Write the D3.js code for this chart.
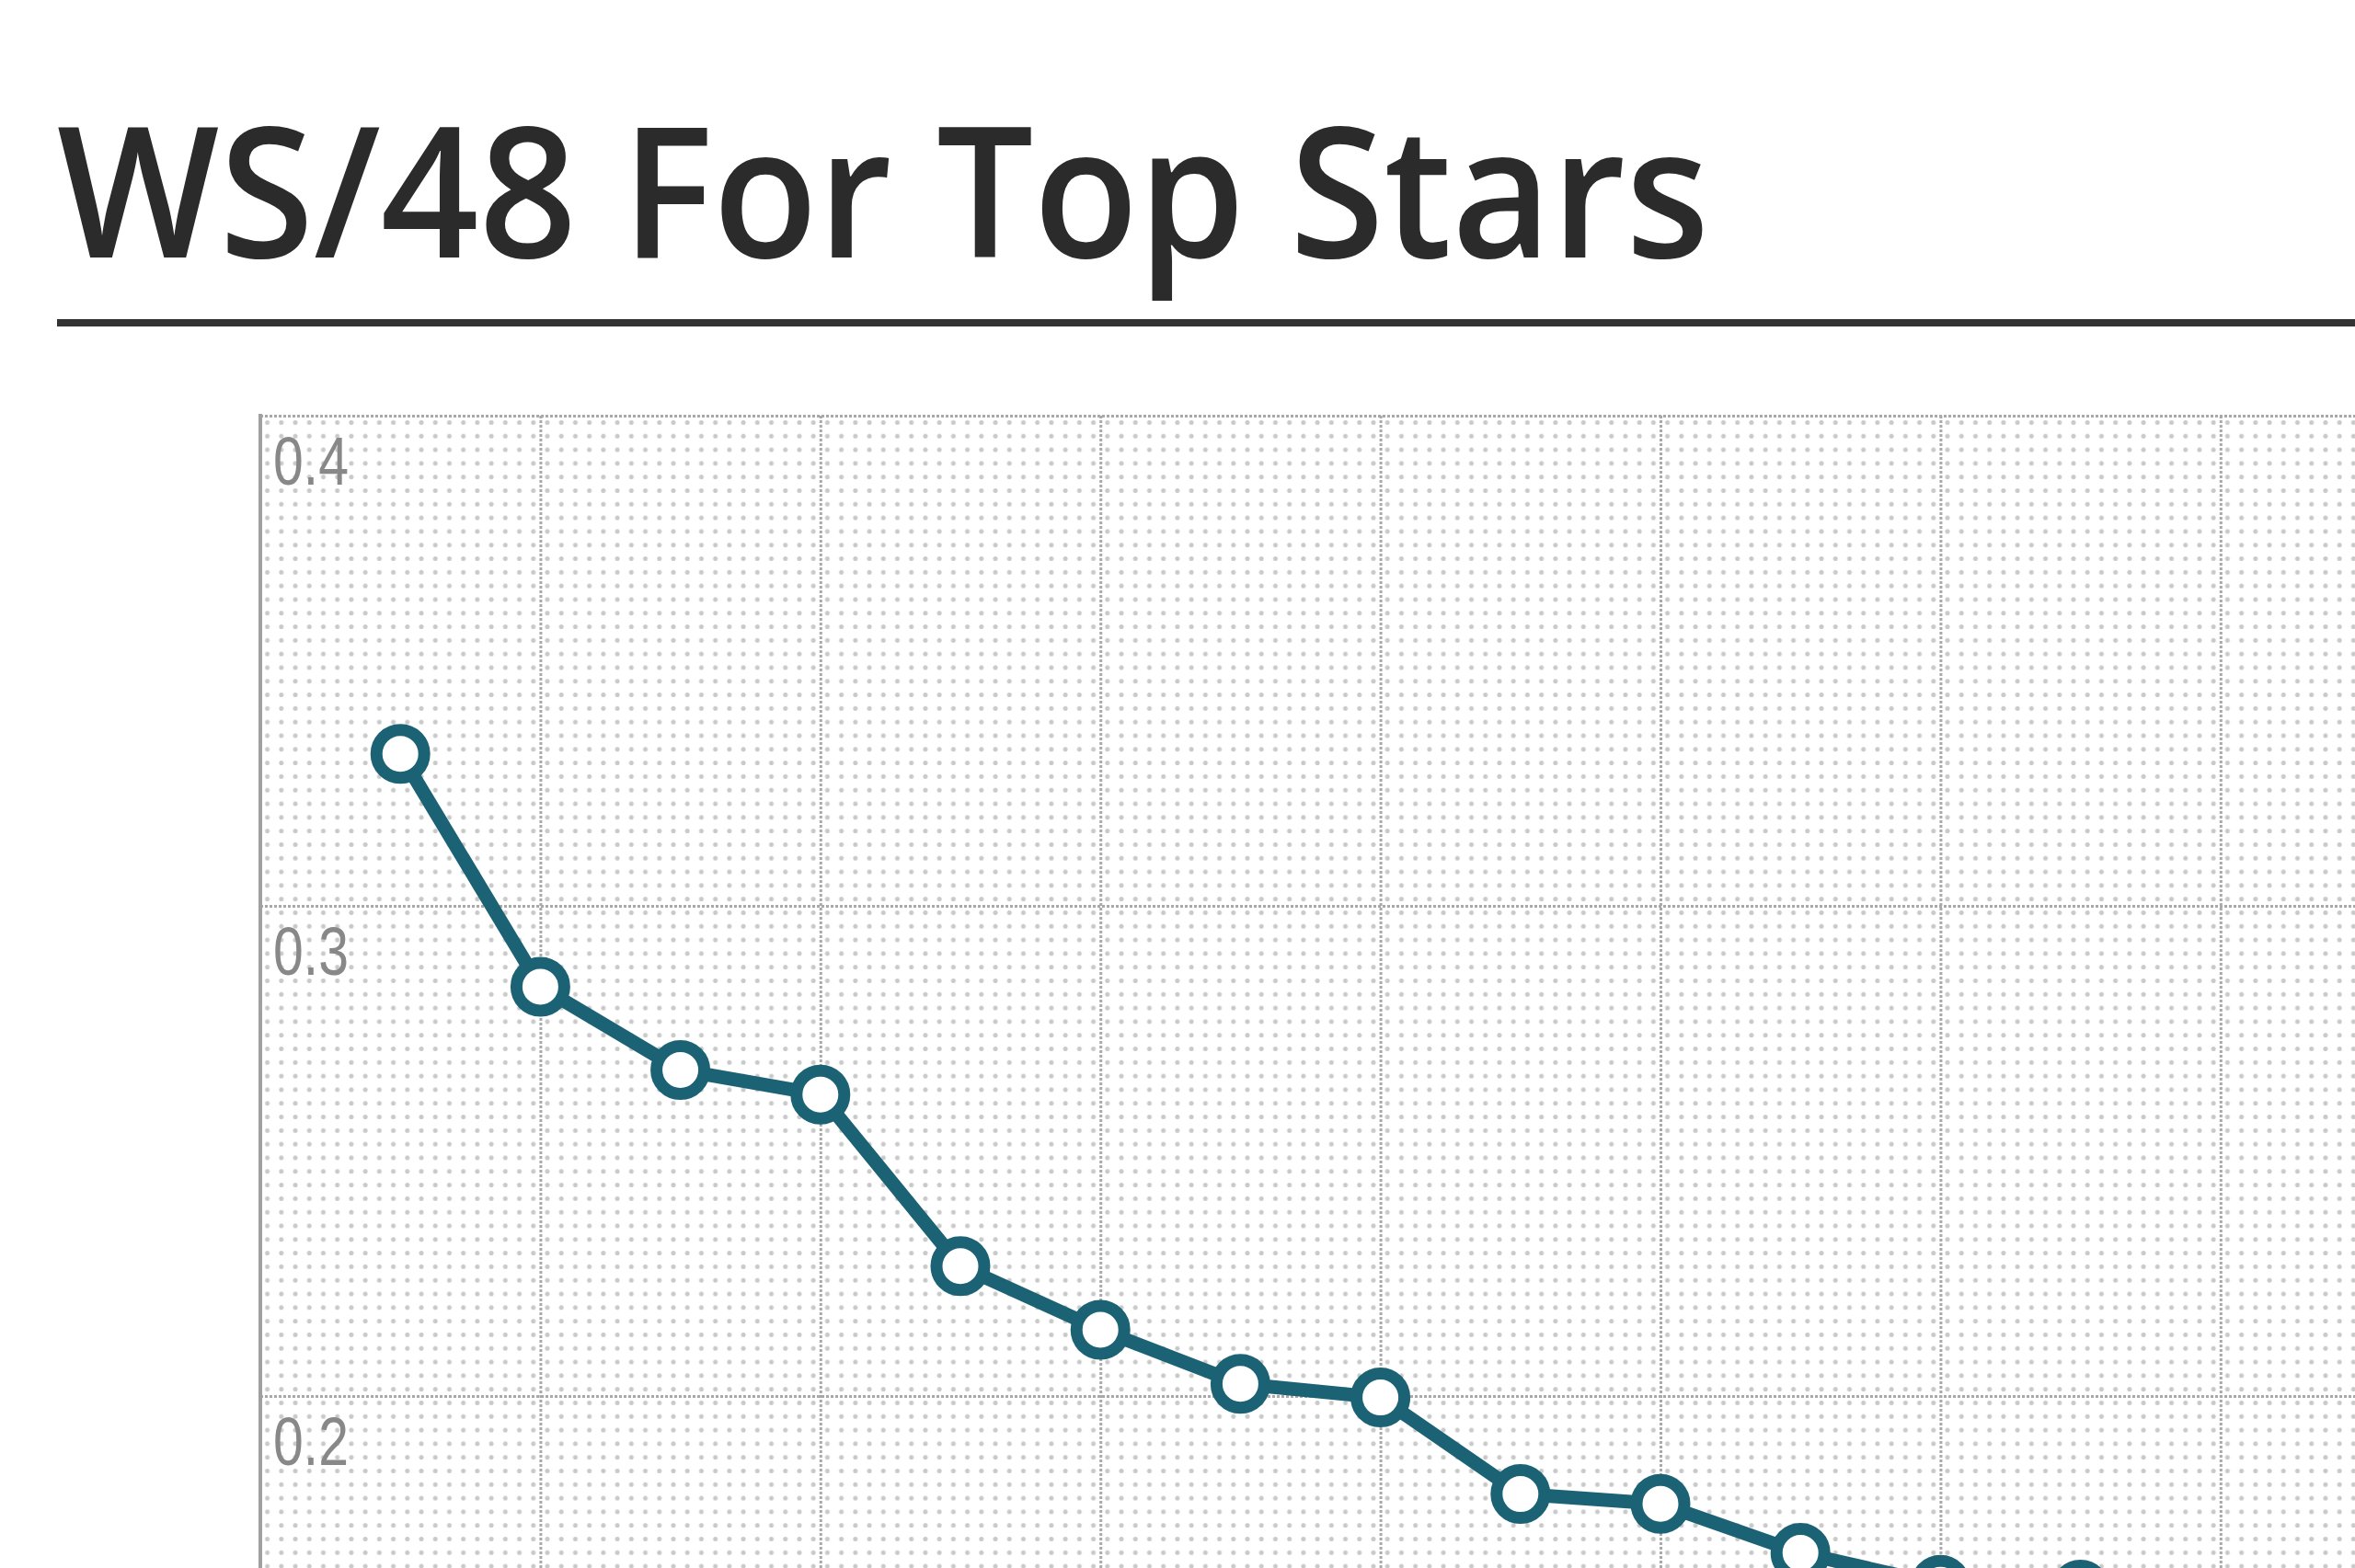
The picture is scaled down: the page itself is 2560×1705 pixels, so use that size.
<!DOCTYPE html>
<html>
<head>
<meta charset="utf-8">
<script src="https://cdn.jsdelivr.net/npm/d3@7"></script>
<style>
  html, body { margin: 0; padding: 0; background: #fff; }
  svg { display: block; }
</style>
</head>
<body>
<svg id="chart" width="2560" height="1705"></svg>
<script>
// ---- data ----
const title = "WS/48 For Top Stars";
const ranks = [1, 2, 3, 4, 5, 6, 7, 8, 9, 10, 11, 12, 13];
const ws48 = [0.331, 0.2835, 0.2665, 0.2615, 0.2265, 0.2135, 0.2025, 0.1997, 0.1800, 0.1780, 0.1680, 0.1615, 0.1605];
const yTicks = [0.2, 0.3, 0.4];
const xGridTicks = [2, 4, 6, 8, 10, 12, 14, 16];

// ---- layout ----
const W = 2560, H = 1705;
const plotLeft = 283, plotTop = 452;
const rankStep = 152.2;
const teal = "#1b6374";

const svg = d3.select("#chart");

const x = d3.scaleLinear().domain([0, 14]).range([plotLeft, plotLeft + 14 * rankStep]);
const y = d3.scaleLinear().domain([0.2, 0.4]).range([1518, plotTop]);

// dot pattern background
const defs = svg.append("defs");
const pw = rankStep / 10, ph = (y(0.3) - y(0.4)) / 36;
const pat = defs.append("pattern")
  .attr("id", "dots").attr("patternUnits", "userSpaceOnUse")
  .attr("x", plotLeft).attr("y", plotTop)
  .attr("width", pw).attr("height", ph);
pat.append("circle").attr("cx", pw / 2).attr("cy", ph / 2).attr("r", 2.5).attr("fill", "#c9c9c9");

svg.append("rect")
  .attr("x", plotLeft).attr("y", plotTop)
  .attr("width", W - plotLeft).attr("height", H - plotTop)
  .attr("fill", "url(#dots)");

// vertical grid lines via axis
const xg = svg.append("g")
  .attr("transform", `translate(0,${plotTop})`)
  .call(d3.axisBottom(x).tickValues(xGridTicks).tickSize(H - plotTop).tickFormat(""));
xg.select(".domain").remove();
xg.selectAll(".tick line")
  .attr("stroke", "#a9a9a9").attr("stroke-width", 3).attr("stroke-dasharray", "3,2");

// horizontal grid lines + labels via axis
const yg = svg.append("g")
  .attr("transform", `translate(${plotLeft},0)`)
  .call(d3.axisRight(y).tickValues(yTicks).tickSize(W - plotLeft).tickFormat(d3.format(".1f")));
yg.select(".domain").remove();
yg.selectAll(".tick line")
  .attr("stroke", "#a9a9a9").attr("stroke-width", 3).attr("stroke-dasharray", "3,2");
yg.selectAll(".tick text")
  .attr("x", 14).attr("dy", 0).attr("y", 74)
  .attr("text-anchor", "start")
  .attr("fill", "#888")
  .attr("textLength", 82)
  .attr("lengthAdjust", "spacingAndGlyphs")
  .style("font-family", "'Liberation Sans', 'DejaVu Sans', sans-serif")
  .style("font-size", "75px");

// left axis line
svg.append("line")
  .attr("x1", plotLeft).attr("x2", plotLeft)
  .attr("y1", plotTop - 2).attr("y2", H)
  .attr("stroke", "#a0a0a0").attr("stroke-width", 4);

// series line
const data = ranks.map((r, i) => ({ r, v: ws48[i] }));
svg.append("path")
  .datum(data)
  .attr("fill", "none")
  .attr("stroke", teal)
  .attr("stroke-width", 15)
  .attr("stroke-linejoin", "round")
  .attr("d", d3.line().x(d => x(d.r)).y(d => y(d.v)));

svg.selectAll("circle.pt")
  .data(data)
  .join("circle")
  .attr("class", "pt")
  .attr("cx", d => x(d.r)).attr("cy", d => y(d.v))
  .attr("r", 26)
  .attr("fill", "#fff")
  .attr("stroke", teal)
  .attr("stroke-width", 13);

// title
const t = svg.append("text")
  .attr("x", 62).attr("y", 280)
  .attr("fill", "#2b2b2b")
  .style("font-family", "'Open Sans', sans-serif")
  .style("font-weight", 600)
  .style("font-size", "200px")
  .text(title);
const tw = t.node().getComputedTextLength();
t.style("font-size", (200 * 1796 / tw * 1.06) + "px")
  .attr("textLength", 1796)
  .attr("lengthAdjust", "spacingAndGlyphs");

// title rule
svg.append("line")
  .attr("x1", 62).attr("x2", W)
  .attr("y1", 351).attr("y2", 351)
  .attr("stroke", "#333").attr("stroke-width", 8);
</script>
</body>
</html>
